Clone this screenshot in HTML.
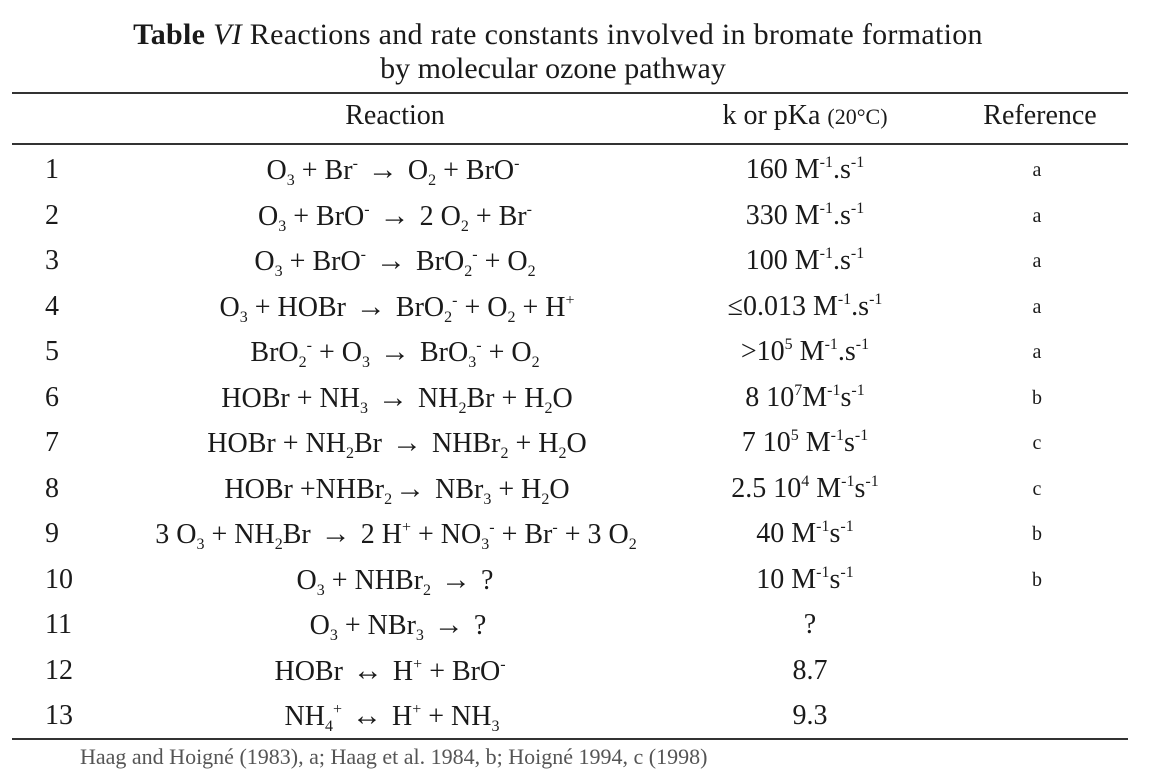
<!DOCTYPE html>
<html><head><meta charset="utf-8"><style>
body{margin:0;width:1153px;height:746px;background:#fff;overflow:hidden;position:relative;font-family:"Liberation Serif",serif;color:#1a1a1a}
.t{position:absolute;white-space:nowrap;font-size:28px;line-height:30px}
.c{transform:translateX(-50%)}
.r{position:absolute;left:12px;width:1116px;height:2px;background:#333}
sup,sub{font-size:16px;line-height:0}
sup{vertical-align:11px}sub{vertical-align:-6px}
.a{font-size:30px;padding:0 3px}
</style></head><body>
<div class="t c" style="left:558px;top:20px;font-size:30px;letter-spacing:0.3px">
<b>Table</b> <i>VI</i> Reactions and rate constants involved in bromate formation</div>
<div class="t c" style="left:553px;top:54px;font-size:30px">by molecular ozone pathway</div>
<div class="r" style="top:92px"></div>
<div class="t c" style="left:395px;top:101px">Reaction</div>
<div class="t c" style="left:805px;top:101px">k or pKa <span style="font-size:22px">(20°C)</span></div>
<div class="t c" style="left:1040px;top:101px">Reference</div>
<div class="r" style="top:143px"></div>

<div class="t" style="left:45px;top:155px">1</div><div class="t c" style="left:393px;top:155px">O<sub>3</sub> + Br<sup>-</sup> <span class="a">→</span> O<sub>2</sub> + BrO<sup>-</sup></div><div class="t c" style="left:805px;top:155px">160 M<sup>-1</sup>.s<sup>-1</sup></div><div class="t c" style="left:1037px;top:155px;font-size:20px">a</div>
<div class="t" style="left:45px;top:201px">2</div><div class="t c" style="left:395px;top:201px">O<sub>3</sub> + BrO<sup>-</sup> <span class="a">→</span> 2 O<sub>2</sub> + Br<sup>-</sup></div><div class="t c" style="left:805px;top:201px">330 M<sup>-1</sup>.s<sup>-1</sup></div><div class="t c" style="left:1037px;top:201px;font-size:20px">a</div>
<div class="t" style="left:45px;top:246px">3</div><div class="t c" style="left:395px;top:246px">O<sub>3</sub> + BrO<sup>-</sup> <span class="a">→</span> BrO<sub>2</sub><sup>-</sup> + O<sub>2</sub></div><div class="t c" style="left:805px;top:246px">100 M<sup>-1</sup>.s<sup>-1</sup></div><div class="t c" style="left:1037px;top:246px;font-size:20px">a</div>
<div class="t" style="left:45px;top:292px">4</div><div class="t c" style="left:397px;top:292px">O<sub>3</sub> + HOBr <span class="a">→</span> BrO<sub>2</sub><sup>-</sup> + O<sub>2</sub> + H<sup>+</sup></div><div class="t c" style="left:805px;top:292px">≤0.013 M<sup>-1</sup>.s<sup>-1</sup></div><div class="t c" style="left:1037px;top:292px;font-size:20px">a</div>
<div class="t" style="left:45px;top:337px">5</div><div class="t c" style="left:395px;top:337px">BrO<sub>2</sub><sup>-</sup> + O<sub>3</sub> <span class="a">→</span> BrO<sub>3</sub><sup>-</sup> + O<sub>2</sub></div><div class="t c" style="left:805px;top:337px">&gt;10<sup>5</sup> M<sup>-1</sup>.s<sup>-1</sup></div><div class="t c" style="left:1037px;top:337px;font-size:20px">a</div>
<div class="t" style="left:45px;top:383px">6</div><div class="t c" style="left:397px;top:383px">HOBr + NH<sub>3</sub> <span class="a">→</span> NH<sub>2</sub>Br + H<sub>2</sub>O</div><div class="t c" style="left:805px;top:383px">8 10<sup>7</sup>M<sup>-1</sup>s<sup>-1</sup></div><div class="t c" style="left:1037px;top:383px;font-size:20px">b</div>
<div class="t" style="left:45px;top:428px">7</div><div class="t c" style="left:397px;top:428px">HOBr + NH<sub>2</sub>Br <span class="a">→</span> NHBr<sub>2</sub> + H<sub>2</sub>O</div><div class="t c" style="left:805px;top:428px">7 10<sup>5</sup> M<sup>-1</sup>s<sup>-1</sup></div><div class="t c" style="left:1037px;top:428px;font-size:20px">c</div>
<div class="t" style="left:45px;top:474px">8</div><div class="t c" style="left:397px;top:474px">HOBr +NHBr<sub>2</sub><span class="a">→</span> NBr<sub>3</sub> + H<sub>2</sub>O</div><div class="t c" style="left:805px;top:474px">2.5 10<sup>4</sup> M<sup>-1</sup>s<sup>-1</sup></div><div class="t c" style="left:1037px;top:474px;font-size:20px">c</div>
<div class="t" style="left:45px;top:519px">9</div><div class="t c" style="left:396px;top:519px">3 O<sub>3</sub> + NH<sub>2</sub>Br <span class="a">→</span> 2 H<sup>+</sup> + NO<sub>3</sub><sup>-</sup> + Br<sup>-</sup> + 3 O<sub>2</sub></div><div class="t c" style="left:805px;top:519px">40 M<sup>-1</sup>s<sup>-1</sup></div><div class="t c" style="left:1037px;top:519px;font-size:20px">b</div>
<div class="t" style="left:45px;top:565px">10</div><div class="t c" style="left:395px;top:565px">O<sub>3</sub> + NHBr<sub>2</sub> <span class="a">→</span> ?</div><div class="t c" style="left:805px;top:565px">10 M<sup>-1</sup>s<sup>-1</sup></div><div class="t c" style="left:1037px;top:565px;font-size:20px">b</div>
<div class="t" style="left:45px;top:610px">11</div><div class="t c" style="left:398px;top:610px">O<sub>3</sub> + NBr<sub>3</sub> <span class="a">→</span> ?</div><div class="t c" style="left:810px;top:610px">?</div>
<div class="t" style="left:45px;top:656px">12</div><div class="t c" style="left:390px;top:656px">HOBr <span class="a">↔</span> H<sup>+</sup> + BrO<sup>-</sup></div><div class="t c" style="left:810px;top:656px">8.7</div>
<div class="t" style="left:45px;top:701px">13</div><div class="t c" style="left:392px;top:701px">NH<sub>4</sub><sup>+</sup> <span class="a">↔</span> H<sup>+</sup> + NH<sub>3</sub></div><div class="t c" style="left:810px;top:701px">9.3</div>
<div class="r" style="top:738px"></div>
<div class="t" style="left:80px;top:742px;font-size:22px;color:#555">Haag and Hoigné (1983), a; Haag et al. 1984, b; Hoigné 1994, c (1998)</div>
</body></html>
